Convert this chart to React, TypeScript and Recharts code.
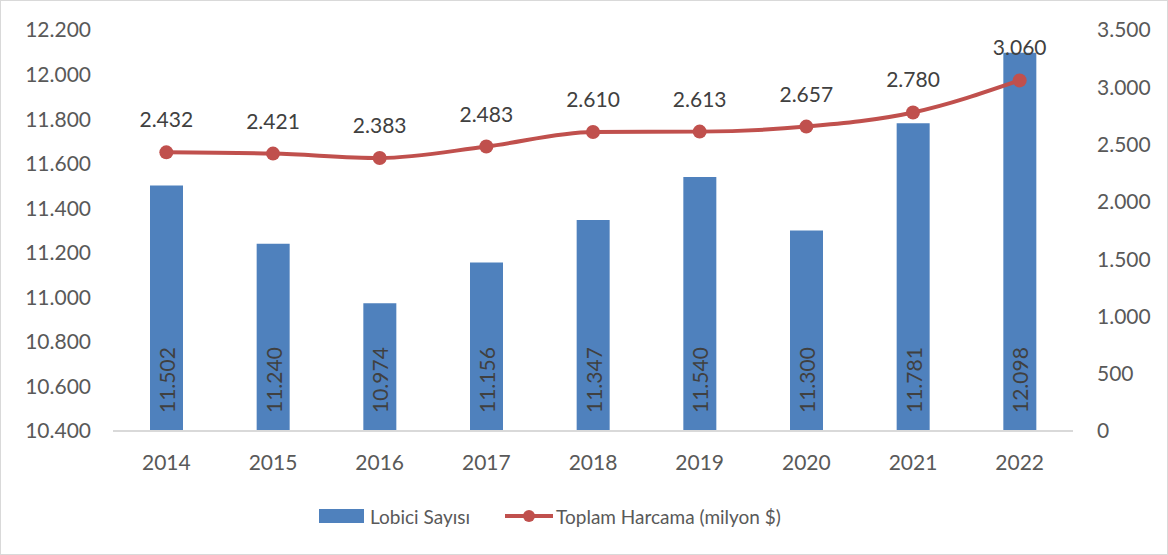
import { ComposedChart, Bar, Line, XAxis, YAxis, Legend, LabelList } from "recharts"

const years = ["2014", "2015", "2016", "2017", "2018", "2019", "2020", "2021", "2022"]
const lobbyists = [11502, 11240, 10974, 11156, 11347, 11540, 11300, 11781, 12098]
const spending = [2432, 2421, 2383, 2483, 2610, 2613, 2657, 2780, 3060]
const leftTicks = [10400, 10600, 10800, 11000, 11200, 11400, 11600, 11800, 12000, 12200]
const rightTicks = [0, 500, 1000, 1500, 2000, 2500, 3000, 3500]

const BLUE = "#4F81BD"
const RED = "#C0504D"
const FONT = "Lato, 'Open Sans', sans-serif"
const FS = 21

// dot as thousands separator, like the original
const fmt = (n: number) => String(n).replace(/\B(?=(\d{3})+(?!\d))/g, ".")

const data = years.map((year, i) => ({ year, lobbyists: lobbyists[i], spending: spending[i] }))

const BarValue = (props: any) => {
  const { x, width, value } = props
  const cx = x + width / 2
  const cy = 412
  return (
    <text
      x={cx}
      y={cy}
      transform={`rotate(-90 ${cx} ${cy})`}
      textAnchor="start"
      dominantBaseline="central"
      fill="#404040"
      fontSize={FS}
      fontFamily={FONT}
    >
      {fmt(value)}
    </text>
  )
}

const LegendBox = () => (
  <div style={{ display: "flex", alignItems: "center", height: 50, paddingLeft: 318, fontFamily: FONT, fontSize: 19, color: "#595959" }}>
    <span style={{ display: "inline-block", width: 45, height: 14, background: BLUE, marginRight: 6 }} />
    <span>Lobici Sayısı</span>
    <svg width={48} height={16} style={{ marginLeft: 35, marginRight: 3 }}>
      <line x1={0} y1={8} x2={48} y2={8} stroke={RED} strokeWidth={4} />
      <circle cx={24} cy={8} r={6} fill={RED} />
    </svg>
    <span>Toplam Harcama (milyon $)</span>
  </div>
)

export default function App() {
  return (
    <div
      style={{
        position: "absolute",
        left: 0,
        top: 0,
        width: 1168,
        height: 555,
        boxSizing: "border-box",
        border: "1px solid #D9D9D9",
        background: "#fff",
      }}
    >
      <ComposedChart width={1166} height={553} data={data} margin={{ top: 29, right: 0, left: 0, bottom: 13 }}>
        <XAxis
          dataKey="year"
          height={60}
          tickLine={false}
          axisLine={{ stroke: "#D9D9D9", strokeWidth: 2 }}
          tickMargin={18}
          tick={{ fill: "#595959", fontSize: FS, fontFamily: FONT }}
        />
        <YAxis
          yAxisId="left"
          width={112}
          domain={[10400, 12200]}
          ticks={leftTicks}
          allowDataOverflow
          tickFormatter={fmt}
          axisLine={false}
          tickLine={false}
          tickMargin={16}
          tick={{ fill: "#595959", fontSize: FS, fontFamily: FONT }}
        />
        <YAxis
          yAxisId="right"
          orientation="right"
          width={94}
          domain={[0, 3500]}
          ticks={rightTicks}
          tickFormatter={fmt}
          axisLine={false}
          tickLine={false}
          tickMargin={18}
          tick={{ fill: "#595959", fontSize: FS, fontFamily: FONT, textAnchor: "start" }}
        />
        <Legend verticalAlign="bottom" height={50} content={() => <LegendBox />} />
        <Bar yAxisId="left" dataKey="lobbyists" name="Lobici Sayısı" fill={BLUE} barSize={33} isAnimationActive={false}>
          <LabelList dataKey="lobbyists" content={BarValue} />
        </Bar>
        <Line
          yAxisId="right"
          dataKey="spending"
          name="Toplam Harcama (milyon $)"
          type="monotone"
          stroke={RED}
          strokeWidth={4}
          dot={{ r: 7, fill: RED, stroke: RED, strokeWidth: 0 }}
          isAnimationActive={false}
        >
          <LabelList
            dataKey="spending"
            position="top"
            offset={25}
            formatter={(v: any) => fmt(v)}
            fill="#404040"
            fontSize={FS}
            fontFamily={FONT}
          />
        </Line>
      </ComposedChart>
    </div>
  )
}
